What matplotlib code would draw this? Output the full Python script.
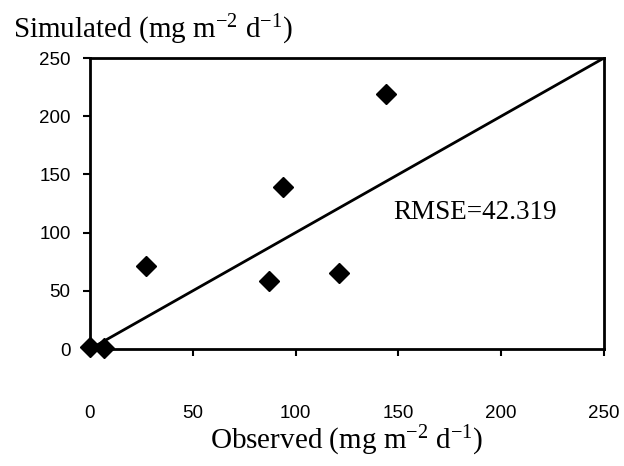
import matplotlib
matplotlib.use("Agg")
import matplotlib.pyplot as plt

# observed vs simulated values (mg m-2 d-1)
observed = [0, 7, 27, 87, 94, 121, 144]
simulated = [2, 1, 71, 58, 139, 65, 219]
one_to_one = [0, 250]
ticks = [0, 50, 100, 150, 200, 250]
rmse_text = "RMSE=42.319"

plt.rcParams['mathtext.fontset'] = 'custom'
plt.rcParams['mathtext.rm'] = 'Liberation Serif'
plt.rcParams['mathtext.it'] = 'Liberation Serif:italic'

serif = 'Liberation Serif'
sans = 'Liberation Sans'

fig = plt.figure(figsize=(6.24, 4.66), dpi=100)
ax = fig.add_axes([90/624, 1 - 349/466, 514/624, 291/466])

ax.plot(one_to_one, one_to_one, color='black', lw=2)
ax.plot(observed, simulated, 'D', color='black', ms=10, clip_on=False, zorder=3)

ax.set_xlim(0, 250)
ax.set_ylim(0, 250)
ax.set_xticks(ticks)
ax.set_yticks(ticks)
ax.set_xticklabels([str(t) for t in ticks], family=sans, fontsize=13.5)
ax.set_yticklabels([str(t) for t in ticks], family=sans, fontsize=13.5)
ax.tick_params(axis='x', direction='out', length=5, width=1.5, pad=35)
ax.tick_params(axis='y', direction='out', length=5, width=1.5, pad=9)
for s in ax.spines.values():
  s.set_linewidth(2)

ax.text(0.59, 0.47, rmse_text, transform=ax.transAxes, family=serif, fontsize=19.5,
        ha='left', va='center')

ax.set_xlabel(r"Observed (mg m$^{-2}$ d$^{-1}$)", family=serif, fontsize=21, labelpad=2)
fig.text(13/624, 1 - 38/466, r"Simulated (mg m$^{-2}$ d$^{-1}$)", family=serif, fontsize=21,
         ha='left', va='baseline')

fig.savefig("out.png", dpi=100)
